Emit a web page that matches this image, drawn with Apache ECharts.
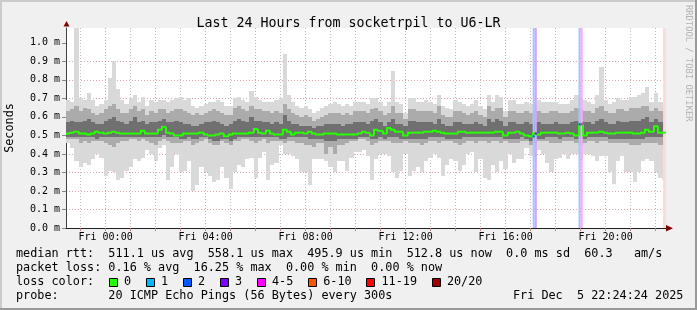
<!DOCTYPE html>
<html><head><meta charset="utf-8">
<script src="https://cdn.jsdelivr.net/npm/echarts@6/dist/echarts.min.js"></script>
<style>html,body{margin:0;padding:0;background:#f0f0f0}#c{width:697px;height:310px}</style>
</head><body><div id="c"></div>
<script>
// ---- time base (hours relative to Fri 00:00) ----
const START_HOUR = -95 / 60;     // Thu 22:25
const STEP_HOURS = 1 / 6;        // 10-minute columns
const NCOLS = 144;

// ---- smoke envelope per column (ms) ----
const maxV = [
 .69,.68,1.08,.70,.69,.73,.69,.66,.67,.69,.81,.90,.75,.69,.67,.70,.72,.68,.71,.66,.69,.68,.69,.69,
 .68,.69,.70,.71,.69,.70,.66,.65,.66,.67,.68,.68,.69,.68,.66,.66,.70,.71,.69,.68,.74,.71,.69,.68,
 .68,.68,.69,.70,.94,.72,.68,.66,.65,.66,.64,.62,.63,.65,.66,.67,.68,.67,.66,.67,.66,.68,.68,.68,
 .67,.70,.70,.68,.66,.68,.85,.68,.67,.62,.70,.70,.68,.68,.69,.68,.67,.72,.66,.65,.64,.69,.68,.67,
 .66,.67,.69,.66,.64,.72,.68,.72,.71,.63,.69,.69,.67,.67,.68,.67,.68,.69,.68,.68,.68,.68,.67,.67,
 .67,.69,.72,.70,.69,.68,.67,.72,.87,.69,.67,.68,.70,.69,.69,.71,.71,.72,.73,.76,.68,.73,.68,.68];
const upV = [
 .63,.64,.66,.63,.65,.64,.62,.61,.62,.64,.66,.67,.64,.62,.62,.64,.66,.63,.64,.61,.63,.62,.64,.64,
 .62,.63,.64,.64,.63,.62,.61,.62,.61,.62,.63,.64,.63,.62,.61,.61,.65,.66,.64,.63,.66,.64,.64,.63,
 .63,.62,.63,.62,.67,.64,.62,.61,.60,.61,.60,.58,.59,.60,.61,.62,.62,.62,.61,.62,.61,.63,.63,.63,
 .62,.64,.65,.63,.61,.62,.66,.62,.62,.59,.64,.64,.63,.63,.63,.63,.62,.66,.61,.60,.60,.63,.63,.62,
 .61,.62,.63,.61,.60,.66,.63,.65,.65,.60,.63,.63,.62,.62,.63,.62,.63,.63,.62,.62,.63,.63,.62,.62,
 .62,.63,.65,.64,.63,.63,.62,.65,.66,.63,.62,.62,.64,.64,.63,.65,.65,.65,.66,.66,.63,.65,.63,.63];
const coreV = [
 .57,.58,.57,.57,.58,.59,.57,.56,.56,.58,.59,.60,.58,.57,.56,.58,.60,.57,.58,.56,.57,.57,.58,.59,
 .57,.57,.58,.57,.56,.56,.55,.55,.56,.57,.57,.58,.57,.56,.55,.56,.58,.59,.58,.57,.60,.58,.58,.57,
 .57,.56,.57,.56,.61,.58,.56,.56,.55,.55,.55,.54,.55,.55,.56,.56,.56,.56,.55,.56,.56,.57,.57,.57,
 .56,.58,.59,.57,.55,.57,.59,.56,.56,.55,.58,.58,.57,.57,.57,.57,.56,.59,.56,.55,.55,.57,.57,.56,
 .56,.56,.57,.56,.55,.59,.57,.59,.58,.55,.57,.57,.56,.56,.57,.56,.57,.57,.56,.56,.56,.57,.56,.56,
 .56,.57,.58,.58,.57,.57,.56,.58,.59,.57,.56,.56,.58,.57,.57,.58,.58,.58,.59,.60,.57,.59,.57,.57];
const medV = [
 .51,.515,.52,.51,.51,.505,.51,.52,.515,.51,.515,.52,.515,.51,.51,.51,.51,.51,.525,.51,.51,.51,.53,.545,
 .515,.51,.50,.50,.51,.51,.51,.51,.515,.505,.50,.50,.505,.51,.495,.505,.51,.51,.51,.51,.515,.535,.515,.51,
 .525,.51,.505,.505,.53,.52,.505,.515,.515,.51,.52,.51,.505,.505,.51,.51,.51,.505,.505,.505,.505,.505,.51,.52,
 .515,.50,.53,.525,.51,.54,.53,.52,.52,.50,.515,.515,.515,.515,.52,.52,.525,.52,.515,.51,.51,.51,.52,.52,
 .515,.515,.515,.515,.515,.515,.515,.52,.52,.50,.515,.515,.52,.51,.50,.495,.51,.505,.515,.515,.515,.515,.51,.51,
 .515,.51,.50,.56,.50,.515,.515,.515,.52,.515,.51,.51,.515,.515,.515,.515,.51,.51,.515,.53,.52,.55,.515,.515];
const coreLoV = [
 .49,.49,.49,.49,.49,.49,.49,.48,.49,.49,.49,.49,.49,.49,.49,.49,.49,.49,.49,.49,.49,.49,.49,.50,
 .49,.49,.49,.48,.48,.49,.48,.48,.49,.49,.48,.47,.47,.48,.48,.47,.48,.49,.49,.49,.49,.49,.49,.49,
 .49,.49,.49,.48,.48,.49,.49,.49,.49,.49,.48,.48,.48,.48,.47,.47,.47,.48,.48,.48,.48,.48,.49,.49,
 .49,.48,.48,.49,.48,.49,.49,.49,.48,.48,.48,.48,.48,.48,.48,.49,.49,.49,.49,.48,.48,.48,.48,.49,
 .49,.49,.49,.49,.49,.49,.49,.49,.49,.48,.48,.48,.48,.49,.48,.47,.48,.48,.48,.49,.49,.49,.48,.49,
 .49,.49,.48,.48,.48,.49,.49,.49,.49,.49,.48,.48,.48,.48,.48,.48,.48,.48,.48,.49,.49,.49,.49,.49];
const lowV = [
 .48,.48,.48,.46,.47,.46,.47,.47,.47,.46,.45,.44,.46,.47,.47,.48,.48,.47,.48,.47,.46,.45,.47,.48,
 .47,.46,.46,.46,.47,.47,.45,.46,.47,.48,.46,.45,.45,.47,.46,.45,.47,.47,.48,.48,.47,.46,.47,.48,
 .46,.47,.47,.47,.46,.47,.47,.46,.46,.45,.45,.44,.46,.46,.40,.44,.40,.45,.45,.46,.47,.47,.48,.48,
 .47,.45,.46,.47,.47,.47,.46,.46,.46,.47,.46,.46,.46,.45,.46,.47,.47,.46,.47,.47,.47,.46,.45,.46,
 .47,.47,.46,.47,.47,.46,.47,.47,.46,.47,.46,.46,.46,.47,.47,.45,.46,.47,.47,.47,.46,.46,.46,.47,
 .47,.47,.46,.45,.46,.47,.47,.46,.47,.47,.46,.46,.46,.46,.46,.45,.45,.45,.46,.46,.46,.46,.45,.45];
const minV = [
 .46,.43,.36,.33,.35,.34,.37,.40,.38,.28,.31,.30,.26,.27,.31,.33,.37,.36,.38,.42,.40,.36,.43,.45,
 .26,.33,.40,.30,.31,.36,.20,.23,.33,.30,.28,.25,.26,.33,.27,.21,.30,.34,.33,.37,.38,.27,.38,.41,
 .26,.34,.35,.45,.40,.40,.39,.37,.30,.30,.23,.37,.37,.37,.36,.33,.30,.36,.36,.31,.38,.41,.41,.42,
 .39,.26,.37,.40,.40,.39,.30,.27,.31,.40,.28,.31,.33,.30,.36,.38,.40,.38,.28,.34,.37,.36,.31,.34,
 .40,.41,.30,.37,.27,.26,.34,.30,.36,.32,.40,.35,.37,.37,.43,.39,.37,.42,.40,.35,.30,.37,.38,.40,
 .37,.40,.40,.36,.40,.40,.39,.36,.39,.39,.30,.24,.36,.39,.30,.30,.25,.30,.36,.37,.36,.30,.27,.26];

// ---- packet loss events (5-minute slots) ----
const lossStart = [17.0833, 17.1667, 18.9167, 19.0];
const lossEnd   = [17.1667, 17.25,   19.0,    19.0833];
const lossCount = [2, 3, 2, 5];
const tailStart = [22.30];
const tailEnd   = [22.4167];

// ---- axes ----
const gridHours = [-1,0,1,2,3,4,5,6,7,8,9,10,11,12,13,14,15,16,17,18,19,20,21,22];
const labelHours = [0,4,8,12,16,20];
const yTickValues = [0,0.1,0.2,0.3,0.4,0.5,0.6,0.7,0.8,0.9,1.0];
const Y_MAX = 1.08;

// ---- legend ----
const lossLabels = ['0','1','2','3','4-5','6-10','11-19','20/20'];
const lossColors = ['#26ff00','#00b8ff','#0059ff','#7e00ff','#ff00ff','#ff5500','#ff0000','#a10000'];
const legendRow1 = 'median rtt:  511.1 us avg  558.1 us max  495.9 us min  512.8 us now  0.0 ms sd  60.3   am/s';
const legendRow2 = 'packet loss: 0.16 % avg  16.25 % max  0.00 % min  0.00 % now';
const legendRow3 = 'loss color:';
const legendRow4 = 'probe:       20 ICMP Echo Pings (56 Bytes) every 300s';
const stampText = 'Fri Dec  5 22:24:24 2025';
const titleText = 'Last 24 Hours from socketrpil to U6-LR';

const FONT = '"DejaVu Sans Mono", monospace';

function lossIdx(c){ if(c<=0)return 0; if(c<=3)return c; if(c<=5)return 4; if(c<=10)return 5; if(c<=19)return 6; return 7; }
function blend(hex,a){ const n=parseInt(hex.slice(1),16); const r=(n>>16)&255,g=(n>>8)&255,b=n&255;
  const f=v=>Math.round(255*(1-a)+v*a); return 'rgb('+f(r)+','+f(g)+','+f(b)+')'; }

const smokeData = maxV.map((m,i)=>[START_HOUR+(i+0.5)*STEP_HOURS, minV[i], lowV[i], coreLoV[i], coreV[i], upV[i], m]);
const medData = medV.map((m,i)=>[START_HOUR+(i+0.5)*STEP_HOURS, m, i>0?medV[i-1]:m]);
const lossData = lossStart.map((s,k)=>{
  const ci = Math.floor((s-START_HOUR)/STEP_HOURS+1e-6);
  return [s, lossEnd[k], lossCount[k], medV[ci]];
});
const tailData = tailStart.map((s,k)=>[s, tailEnd[k]]);

function renderSmoke(params, api){
  const t = api.value(0);
  const xa = Math.round(api.coord([t-STEP_HOURS/2,0])[0]);
  const xb = Math.round(api.coord([t+STEP_HOURS/2,0])[0]);
  const Y = v => Math.round(api.coord([t,v])[1]);
  const band = (lo,hi,c)=>({type:'rect', shape:{x:xa,y:Y(hi),width:xb-xa,height:Y(lo)-Y(hi)}, style:{fill:c}});
  return {type:'group', children:[
    band(api.value(1), api.value(6), '#d9d9d9'),
    band(api.value(2), api.value(5), '#ababab'),
    band(api.value(3), api.value(4), '#707070')
  ]};
}
function renderMedian(params, api){
  const t = api.value(0);
  const xa = Math.round(api.coord([t-STEP_HOURS/2,0])[0]);
  const xb = Math.round(api.coord([t+STEP_HOURS/2,0])[0]);
  const y = api.coord([t,api.value(1)])[1];
  const yp = api.coord([t,api.value(2)])[1];
  return {type:'polyline', shape:{points:[[xa,yp],[xa,y],[xb,y]]}, style:{stroke:'#26ff00', lineWidth:2, fill:null}};
}
function renderLossBar(params, api){
  const p0 = api.coord([api.value(0), Y_MAX]);
  const p1 = api.coord([api.value(1), 0]);
  const c = blend(lossColors[lossIdx(api.value(2))], 0.35);
  return {type:'rect', shape:{x:p0[0],y:p0[1],width:p1[0]-p0[0],height:p1[1]-p0[1]}, style:{fill:c}};
}
function renderLossMed(params, api){
  const a = api.coord([api.value(0), api.value(3)]);
  const b = api.coord([api.value(1), api.value(3)]);
  return {type:'line', shape:{x1:a[0],y1:a[1],x2:b[0],y2:b[1]}, style:{stroke:lossColors[lossIdx(api.value(2))], lineWidth:2}};
}
function renderTail(params, api){
  const p0 = api.coord([api.value(0), Y_MAX]);
  const p1 = api.coord([api.value(1), 0]);
  return {type:'rect', shape:{x:p0[0],y:p0[1],width:p1[0]-p0[0],height:p1[1]-p0[1]}, style:{fill:'#fbdcdc'}};
}

// ---- decorations (frame, legend, credits) ----
const graphics = [
  {type:'rect', shape:{x:0,y:0,width:697,height:2}, style:{fill:'#cbcbcb'}, silent:true},
  {type:'rect', shape:{x:0,y:0,width:2,height:310}, style:{fill:'#cbcbcb'}, silent:true},
  {type:'rect', shape:{x:0,y:308,width:697,height:2}, style:{fill:'#999999'}, silent:true},
  {type:'rect', shape:{x:695,y:0,width:2,height:310}, style:{fill:'#999999'}, silent:true},
  {type:'polygon', shape:{points:[[63.5,26.5],[69.5,26.5],[66.5,21]]}, style:{fill:'#800000'}, silent:true},
  {type:'polygon', shape:{points:[[666,225],[666,231.5],[673,228.3]]}, style:{fill:'#800000'}, silent:true},
  {type:'text', x:688, y:5, rotation:-Math.PI/2, style:{text:'RRDTOOL / TOBI OETIKER', font:'8.8px '+FONT, fill:'#b4b4b4', align:'left', verticalAlign:'middle'}, silent:true}
];
const rows = [[legendRow1,254.3],[legendRow2,268.3],[legendRow3,282.3],[legendRow4,296.3]];
rows.forEach(r=>graphics.push({type:'text', x:16, y:r[1], style:{text:r[0], font:'11.8px '+FONT, fill:'#000', align:'left', verticalAlign:'middle'}, silent:true}));
graphics.push({type:'text', x:513, y:296.3, style:{text:stampText, font:'11.8px '+FONT, fill:'#000', align:'left', verticalAlign:'middle'}, silent:true});
let bx = 108.7;
lossLabels.forEach((lab,i)=>{
  graphics.push({type:'rect', shape:{x:Math.round(bx)+0.5,y:278.5,width:8,height:8}, style:{fill:lossColors[i], stroke:'#000', lineWidth:1}, silent:true});
  graphics.push({type:'text', x:bx+15.3, y:282.3, style:{text:lab, font:'11.8px '+FONT, fill:'#000', align:'left', verticalAlign:'middle'}, silent:true});
  bx += 29.9 + 7.1*lab.length;
});

const gridGray = 'rgba(140,140,140,0.55)';
const gridRed = 'rgba(200,50,50,0.45)';

const chart = echarts.init(document.getElementById('c'), null, {renderer:'canvas'});
chart.setOption({
  animation:false,
  backgroundColor:'#f0f0f0',
  title:{text:titleText, left:'center', top:12, textStyle:{fontFamily:FONT, fontSize:13.3, fontWeight:'normal', color:'#000'}},
  grid:{left:66, right:31, top:28, bottom:82, show:true, backgroundColor:'#ffffff', borderWidth:0, containLabel:false, outerBoundsMode:'none'},
  xAxis:{type:'value', min:START_HOUR, max:START_HOUR+NCOLS*STEP_HOURS,
    axisLine:{show:true, onZero:false, lineStyle:{color:'#202020', width:1}},
    axisTick:{show:true, customValues:gridHours, length:3, lineStyle:{color:'#c08080'}},
    axisLabel:{show:true, customValues:labelHours, margin:4, fontFamily:FONT, fontSize:10, color:'#000',
      formatter:v=>'Fri '+String(Math.round(v)).padStart(2,'0')+':00'},
    splitLine:{show:true, customValues:gridHours, lineStyle:{color:[gridGray, gridRed], type:[1,2], width:1}}
  },
  yAxis:{type:'value', min:0, max:Y_MAX, interval:0.1,
    name:'Seconds', nameLocation:'middle', nameGap:50, nameTextStyle:{fontFamily:FONT, fontSize:11.8, color:'#000'},
    axisLine:{show:true, onZero:false, lineStyle:{color:'#404040', width:1}},
    axisTick:{show:true, customValues:yTickValues, length:4, lineStyle:{color:'#888'}},
    axisLabel:{show:true, customValues:yTickValues, margin:6, fontFamily:FONT, fontSize:10, color:'#000',
      formatter:v=>v.toFixed(1)+' m'},
    splitLine:{show:true, customValues:yTickValues, showMaxLine:false, showMinLine:false, lineStyle:{color:gridRed, type:[1,2], width:1}}
  },
  series:[
    {type:'custom', name:'smoke', renderItem:renderSmoke, data:smokeData, clip:true, silent:true, encode:{x:0,y:[1,6]}},
    {type:'custom', name:'loss', renderItem:renderLossBar, data:lossData, clip:true, silent:true, encode:{x:[0,1],y:3}},
    {type:'custom', name:'tail', renderItem:renderTail, data:tailData, clip:true, silent:true, encode:{x:[0,1]}},
    {type:'custom', name:'median', renderItem:renderMedian, data:medData, clip:true, silent:true, encode:{x:0,y:1}},
    {type:'custom', name:'lossMedian', renderItem:renderLossMed, data:lossData, clip:true, silent:true, encode:{x:[0,1],y:3}}
  ],
  graphic:graphics
});
</script></body></html>
